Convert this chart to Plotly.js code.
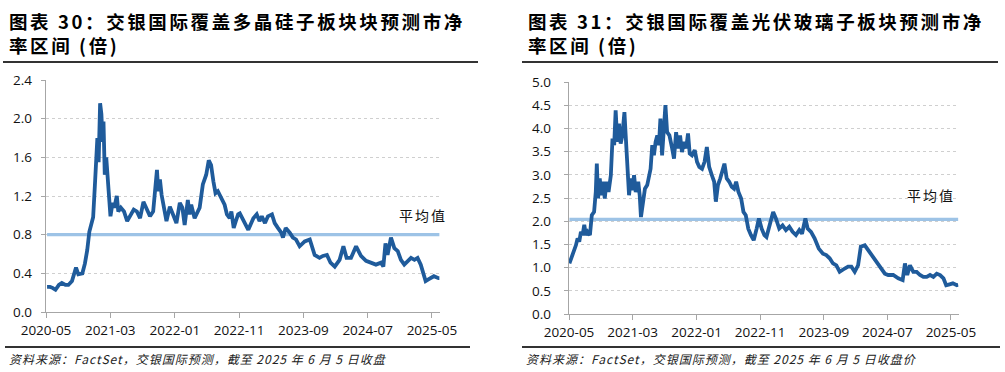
<!DOCTYPE html>
<html>
<head>
<meta charset="utf-8">
<script src="https://cdn.plot.ly/plotly-3.0.1.min.js"></script>
<style>html,body{margin:0;padding:0;background:#fff;}#chart{width:1005px;height:372px;}</style>
</head>
<body>
<div id="chart"></div>
<script>
// ---- Left chart: 多晶硅 (polysilicon) forward P/B ----
const polyDates = ["2020-05-06","2020-05-20","2020-06-01","2020-06-15","2020-07-01","2020-07-15","2020-08-01","2020-08-15","2020-09-01","2020-09-10","2020-09-20","2020-10-01","2020-10-20","2020-11-01","2020-11-12","2020-11-22","2020-12-01","2020-12-10","2020-12-18","2020-12-24","2020-12-30","2021-01-05","2021-01-12","2021-01-18","2021-01-24","2021-01-28","2021-02-03","2021-02-10","2021-02-18","2021-02-25","2021-03-02","2021-03-12","2021-03-20","2021-04-01","2021-04-08","2021-04-20","2021-05-05","2021-05-20","2021-06-05","2021-06-20","2021-07-05","2021-07-20","2021-08-05","2021-08-20","2021-09-05","2021-09-20","2021-10-08","2021-10-14","2021-10-22","2021-10-30","2021-11-10","2021-11-22","2021-12-08","2021-12-24","2022-01-08","2022-01-24","2022-02-05","2022-02-16","2022-03-03","2022-03-11","2022-03-19","2022-04-04","2022-04-15","2022-04-28","2022-05-13","2022-05-29","2022-06-10","2022-06-21","2022-07-02","2022-07-12","2022-07-23","2022-08-08","2022-08-24","2022-09-04","2022-09-17","2022-09-25","2022-10-06","2022-10-16","2022-10-27","2022-11-04","2022-11-21","2022-12-14","2023-01-07","2023-01-23","2023-02-05","2023-02-16","2023-03-03","2023-03-17","2023-04-05","2023-04-18","2023-05-03","2023-05-19","2023-05-27","2023-06-09","2023-06-28","2023-07-13","2023-07-28","2023-08-14","2023-09-07","2023-10-01","2023-10-24","2023-11-16","2023-12-02","2023-12-21","2024-01-07","2024-01-27","2024-02-19","2024-03-08","2024-03-23","2024-04-13","2024-05-07","2024-05-30","2024-06-23","2024-07-16","2024-08-09","2024-09-02","2024-09-13","2024-09-23","2024-10-03","2024-10-19","2024-11-04","2024-11-20","2024-12-05","2024-12-21","2025-01-06","2025-01-22","2025-02-07","2025-02-22","2025-03-09","2025-04-01","2025-04-16","2025-05-10","2025-06-01","2025-06-05"];
const polyPB = [0.26,0.26,0.25,0.23,0.28,0.30,0.28,0.28,0.32,0.40,0.46,0.39,0.40,0.50,0.64,0.83,0.92,0.98,1.30,1.62,1.80,1.55,2.16,2.05,1.76,1.97,1.42,1.60,1.32,1.14,0.99,1.13,1.08,1.20,1.04,1.08,1.04,0.94,1.01,1.06,1.04,0.97,1.14,1.06,0.99,1.04,1.47,1.25,1.37,1.21,1.08,0.94,1.09,1.01,0.92,1.13,1.08,0.90,1.16,1.01,1.11,0.97,1.02,1.08,1.32,1.42,1.57,1.52,1.35,1.23,1.25,1.18,1.11,1.01,0.97,1.04,0.87,0.94,1.01,1.02,0.94,0.85,0.97,1.01,0.94,0.99,0.92,0.99,1.01,0.92,0.87,0.82,0.77,0.87,0.82,0.77,0.75,0.68,0.73,0.75,0.59,0.56,0.58,0.59,0.51,0.47,0.54,0.68,0.56,0.56,0.68,0.58,0.53,0.51,0.49,0.51,0.47,0.71,0.59,0.77,0.66,0.63,0.54,0.49,0.53,0.56,0.54,0.56,0.49,0.32,0.34,0.37,0.35,0.35];
const polyMean = 0.80;

// ---- Right chart: 光伏玻璃 (PV glass) forward P/B ----
const glassDates = ["2020-05-03","2020-05-18","2020-06-03","2020-06-11","2020-06-19","2020-06-27","2020-07-05","2020-07-13","2020-07-21","2020-07-29","2020-08-09","2020-08-18","2020-08-29","2020-09-06","2020-09-11","2020-09-17","2020-09-25","2020-10-03","2020-10-11","2020-10-19","2020-10-27","2020-11-06","2020-11-17","2020-11-25","2020-12-03","2020-12-10","2020-12-18","2020-12-26","2021-01-03","2021-01-11","2021-01-21","2021-01-27","2021-02-04","2021-02-12","2021-02-20","2021-02-28","2021-03-08","2021-03-16","2021-03-28","2021-04-04","2021-04-10","2021-04-19","2021-04-29","2021-05-10","2021-05-18","2021-05-26","2021-06-03","2021-06-11","2021-06-19","2021-06-27","2021-07-05","2021-07-12","2021-07-20","2021-07-28","2021-08-05","2021-08-13","2021-08-24","2021-09-06","2021-09-15","2021-09-25","2021-10-04","2021-10-14","2021-10-23","2021-11-02","2021-11-12","2021-11-21","2021-11-29","2021-12-10","2021-12-23","2022-01-03","2022-01-14","2022-01-27","2022-02-08","2022-02-19","2022-03-02","2022-03-15","2022-03-26","2022-04-03","2022-04-13","2022-04-24","2022-05-05","2022-05-14","2022-05-25","2022-06-06","2022-06-18","2022-06-29","2022-07-09","2022-07-20","2022-08-02","2022-08-13","2022-08-24","2022-09-05","2022-09-18","2022-10-01","2022-10-15","2022-10-26","2022-11-08","2022-11-21","2022-12-01","2022-12-14","2023-01-02","2023-01-15","2023-01-31","2023-02-16","2023-03-04","2023-03-20","2023-04-05","2023-04-21","2023-05-07","2023-05-20","2023-06-05","2023-06-16","2023-07-02","2023-07-19","2023-08-08","2023-08-28","2023-09-13","2023-09-29","2023-10-15","2023-10-31","2023-11-16","2023-12-10","2023-12-26","2024-01-11","2024-01-27","2024-02-12","2024-02-25","2024-03-15","2024-03-31","2024-04-16","2024-05-02","2024-05-26","2024-06-19","2024-07-05","2024-07-29","2024-08-22","2024-09-12","2024-09-23","2024-10-04","2024-10-17","2024-11-02","2024-11-18","2024-12-04","2024-12-20","2025-01-05","2025-01-21","2025-02-06","2025-02-22","2025-03-10","2025-03-26","2025-04-08","2025-04-24","2025-05-10","2025-05-29","2025-06-05"];
const glassPB = [1.09,1.27,1.48,1.63,1.56,1.77,1.70,1.92,1.70,1.77,1.70,2.13,2.20,2.63,3.24,2.49,2.92,2.56,2.85,2.49,2.85,2.63,2.99,3.78,3.64,4.39,3.71,4.10,3.67,3.85,4.35,3.85,3.13,2.56,2.92,2.67,2.99,2.63,2.85,2.56,2.09,2.42,2.70,2.78,2.99,3.13,3.64,3.42,3.71,3.85,3.64,4.21,3.42,4.00,4.50,3.92,3.85,3.57,3.35,3.92,3.57,3.85,3.49,3.71,3.57,3.89,3.46,3.42,3.53,3.28,3.17,3.13,3.28,3.60,3.17,2.99,2.85,2.42,2.78,2.92,3.13,3.24,2.92,2.85,2.74,2.70,2.85,2.63,2.49,2.20,2.13,1.84,1.70,1.59,1.84,2.06,1.84,1.70,1.66,1.91,2.20,2.06,1.84,1.91,1.81,1.88,1.77,1.70,1.81,1.73,2.06,1.84,1.77,1.63,1.41,1.30,1.27,1.20,1.09,1.05,0.91,0.98,1.02,1.02,0.91,1.05,1.45,1.48,1.38,1.30,1.20,1.05,0.87,0.84,0.84,0.77,0.73,1.09,0.84,1.05,0.91,0.91,0.84,0.80,0.80,0.84,0.80,0.87,0.84,0.77,0.62,0.64,0.66,0.62,0.63];
const glassMean = 2.04;

// ---- Shared axis ticks / texts ----
const tickDates = ["2020-05-01","2021-03-01","2022-01-01","2022-11-01","2023-09-01","2024-07-01","2025-05-01"];
const tickLabels = ["2020-05","2021-03","2022-01","2022-11","2023-09","2024-07","2025-05"];
const polyYTicks = [0, 0.4, 0.8, 1.2, 1.6, 2.0, 2.4];
const glassYTicks = [0, 0.5, 1.0, 1.5, 2.0, 2.5, 3.0, 3.5, 4.0, 4.5, 5.0];
const titleLeft = "图表 30：交银国际覆盖多晶硅子板块块预测市净<br>率区间 (倍)";
const titleRight = "图表 31：交银国际覆盖光伏玻璃子板块预测市净<br>率区间 (倍)";
const sourceLeft = "资料来源：FactSet，交银国际预测，截至 2025 年 6 月 5 日收盘";
const sourceRight = "资料来源：FactSet，交银国际预测，截至 2025 年 6 月 5 日收盘价";
const meanLabel = "平均值";

const W = 1005, H = 372;
const px = v => v / W;
const py = v => 1 - v / H;

const lineColor = "#1F5B9B";
const meanColor = "#9DC3E6";

const traces = [
  {x: [polyDates[0], polyDates[polyDates.length-1]], y: [polyMean, polyMean], xaxis: "x", yaxis: "y",
   mode: "lines", line: {color: meanColor, width: 3.2}, hoverinfo: "skip"},
  {x: polyDates, y: polyPB, xaxis: "x", yaxis: "y", mode: "lines",
   line: {color: lineColor, width: 3.8}},
  {x: [glassDates[0], glassDates[glassDates.length-1]], y: [glassMean, glassMean], xaxis: "x2", yaxis: "y2",
   mode: "lines", line: {color: meanColor, width: 3.2}, hoverinfo: "skip"},
  {x: glassDates, y: glassPB, xaxis: "x2", yaxis: "y2", mode: "lines",
   line: {color: lineColor, width: 3.8}}
];

const tickFont = {family: "Open Sans, Liberation Sans, sans-serif", size: 13.5, color: "#111"};
const xCommon = {
  type: "date", tickmode: "array", tickvals: tickDates, ticktext: tickLabels,
  showline: true, linecolor: "#A6A6A6", linewidth: 1.3, ticks: "outside", ticklen: 5,
  tickcolor: "#A6A6A6", showgrid: false, zeroline: false, tickfont: tickFont, fixedrange: true
};
const yCommon = {
  showline: true, linecolor: "#A6A6A6", linewidth: 1.3, ticks: "outside", ticklen: 4,
  tickcolor: "#A6A6A6", showgrid: true, gridcolor: "#CFCFCF", griddash: "dot", gridwidth: 1,
  zeroline: false, tickfont: tickFont, tickmode: "array", fixedrange: true
};

const layout = {
  width: W, height: H, margin: {l: 0, r: 0, t: 0, b: 0},
  paper_bgcolor: "#fff", plot_bgcolor: "#fff", showlegend: false,
  xaxis: Object.assign({}, xCommon, {domain: [px(46), px(440)], range: ["2020-05-01", "2025-06-08"], anchor: "y"}),
  yaxis: Object.assign({}, yCommon, {domain: [py(312), py(80)], range: [0, 2.4], tickvals: polyYTicks,
    ticktext: polyYTicks.map(v => v.toFixed(1)), anchor: "x", ticklabelstandoff: 6}),
  xaxis2: Object.assign({}, xCommon, {domain: [px(569), px(958.5)], range: ["2020-05-01", "2025-06-06"], anchor: "y2"}),
  yaxis2: Object.assign({}, yCommon, {domain: [py(314), py(82)], range: [0, 5.0], tickvals: glassYTicks,
    ticktext: glassYTicks.map(v => v.toFixed(1)), anchor: "x2", ticklabelstandoff: 10}),
  shapes: [
    {type: "line", xref: "paper", yref: "paper", x0: px(3), x1: px(478), y0: py(62), y1: py(62), line: {color: "#333", width: 2.2}},
    {type: "line", xref: "paper", yref: "paper", x0: px(5), x1: px(470), y0: py(347), y1: py(347), line: {color: "#333", width: 2.2}},
    {type: "line", xref: "paper", yref: "paper", x0: px(522), x1: px(998), y0: py(62), y1: py(62), line: {color: "#333", width: 2.2}},
    {type: "line", xref: "paper", yref: "paper", x0: px(522), x1: px(1000), y0: py(347), y1: py(347), line: {color: "#333", width: 2.2}}
  ],
  annotations: [
    {text: titleLeft, xref: "paper", yref: "paper", x: px(7), y: py(6), xanchor: "left", yanchor: "top",
     align: "left", showarrow: false, font: {family: "Noto Sans CJK SC", size: 18.5, color: "#000", weight: "bold"}},
    {text: titleRight, xref: "paper", yref: "paper", x: px(526), y: py(6), xanchor: "left", yanchor: "top",
     align: "left", showarrow: false, font: {family: "Noto Sans CJK SC", size: 18.5, color: "#000", weight: "bold"}},
    {text: meanLabel, xref: "paper", yref: "paper", x: px(397), y: py(215), xanchor: "left", yanchor: "middle",
     align: "left", showarrow: false, font: {family: "Noto Sans CJK SC", size: 14, color: "#111"}},
    {text: meanLabel, xref: "paper", yref: "paper", x: px(905), y: py(195), xanchor: "left", yanchor: "middle",
     align: "left", showarrow: false, font: {family: "Noto Sans CJK SC", size: 14, color: "#111"}},
    {text: sourceLeft, xref: "paper", yref: "paper", x: px(7), y: py(358), xanchor: "left", yanchor: "middle",
     align: "left", showarrow: false, font: {family: "Noto Sans CJK SC", size: 12, color: "#222", style: "italic"}},
    {text: sourceRight, xref: "paper", yref: "paper", x: px(524), y: py(358), xanchor: "left", yanchor: "middle",
     align: "left", showarrow: false, font: {family: "Noto Sans CJK SC", size: 12, color: "#222", style: "italic"}}
  ]
};

const spacing = ["2.6px", "2.6px", "2px", "2px", "1px", "1px"];
Plotly.newPlot("chart", traces, layout, {displayModeBar: false, staticPlot: true}).then(gd => {
  gd.querySelectorAll(".annotation-text").forEach((el, i) => {
    if (spacing[i]) el.style.letterSpacing = spacing[i];
  });
});
</script>
</body>
</html>
